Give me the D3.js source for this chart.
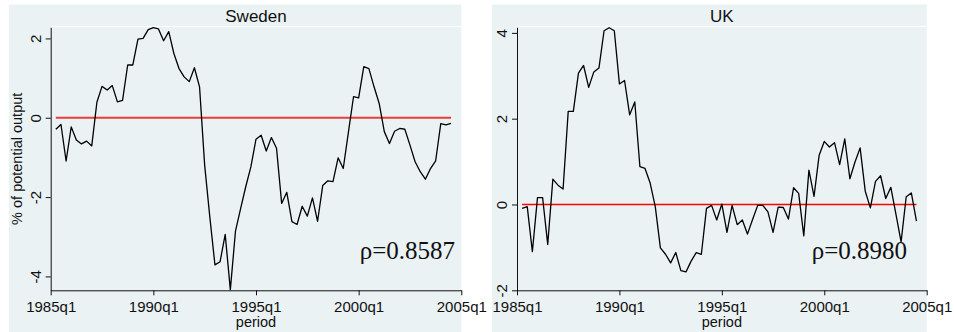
<!DOCTYPE html>
<html>
<head>
<meta charset="utf-8">
<script src="https://cdn.jsdelivr.net/npm/d3@7"></script>
<style>
  body { margin: 0; background: #fff; }
  svg { display: block; font-family: 'Liberation Sans', Arial, sans-serif; }
  .tick text { font-size: 15px; fill: #111; }
  .axis path, .axis line { stroke: #111; stroke-width: 1; }
  .series { fill: none; stroke: #000; stroke-width: 1.3; stroke-linejoin: round; }
  .title { font-size: 17px; fill: #111; text-anchor: middle; }
  .axis-label { font-size: 14.5px; fill: #111; text-anchor: middle; }
  .rho { font-family: 'Liberation Serif', 'Times New Roman', serif; font-size: 25px; fill: #111; text-anchor: end; }
</style>
</head>
<body>
<div class="chart-container"></div>
<script>
var width = 954;
var height = 332;

// output gap, % of potential output, quarterly 1985q2 .. 2004q3
var firstPeriod = 1985.25;
var sweden = [
  -0.29, -0.17, -1.09, -0.23, -0.56, -0.66, -0.59, -0.71, 0.39, 0.79,
  0.70, 0.81, 0.40, 0.44, 1.33, 1.33, 1.98, 2.00, 2.22, 2.27,
  2.24, 1.94, 2.17, 1.62, 1.24, 1.03, 0.91, 1.26, 0.78, -1.20,
  -2.50, -3.71, -3.63, -2.94, -4.34, -2.86, -2.29, -1.74, -1.24, -0.54,
  -0.44, -0.84, -0.50, -0.77, -2.16, -1.88, -2.62, -2.69, -2.23, -2.48,
  -2.02, -2.61, -1.71, -1.59, -1.61, -1.01, -1.28, -0.37, 0.53, 0.50,
  1.29, 1.24, 0.78, 0.36, -0.35, -0.65, -0.34, -0.27, -0.29, -0.69,
  -1.11, -1.36, -1.55, -1.28, -1.09, -0.15, -0.18, -0.14
];
var uk = [
  -0.09, -0.05, -1.10, 0.16, 0.16, -0.93, 0.59, 0.45, 0.36, 2.17,
  2.17, 3.06, 3.24, 2.73, 3.09, 3.18, 4.05, 4.12, 4.05, 2.81,
  2.89, 2.09, 2.39, 0.88, 0.84, 0.50, -0.05, -1.01, -1.16, -1.36,
  -1.12, -1.54, -1.57, -1.32, -1.12, -1.16, -0.09, -0.02, -0.36, 0.01,
  -0.65, -0.02, -0.47, -0.36, -0.69, -0.35, -0.02, -0.02, -0.17, -0.65,
  -0.06, -0.07, -0.34, 0.39, 0.26, -0.73, 0.80, 0.19, 1.15, 1.47,
  1.34, 1.44, 0.93, 1.53, 0.60, 0.99, 1.32, 0.31, -0.08, 0.54,
  0.67, 0.14, 0.40, -0.23, -0.87, 0.18, 0.27, -0.39
];

var xTicks = [1985, 1990, 1995, 2000, 2005];
var swedenTicks = [-4, -2, 0, 2];
var ukTicks = [-2, 0, 2, 4];
var titles = ['Sweden', 'UK'];
var rhoLabels = ['\u03c1=0.8587', '\u03c1=0.8980'];

var svg = d3.select('.chart-container').append('svg')
  .attr('width', width)
  .attr('height', height);

function toSeries(values) {
  return values.map((v, i) => ({ period: firstPeriod + i / 4, value: v }));
}

function addPanel(opt) {
  var plotTop = 27.3;
  var plotBottom = 290.3;

  var x = d3.scaleLinear()
    .domain([1985, 2005])
    .range([opt.left, opt.right]);

  var y = d3.scaleLinear()
    .domain(opt.yDomain)
    .range([plotBottom, plotTop]);

  var g = svg.append('g');

  // panel background + title band
  g.append('rect')
    .attr('x', opt.bgLeft)
    .attr('y', 4.5)
    .attr('width', opt.right - opt.bgLeft)
    .attr('height', height - 4.5)
    .attr('fill', '#eaf2f3');
  g.append('rect')
    .attr('x', opt.left)
    .attr('y', plotTop - 1.2)
    .attr('width', opt.right - opt.left)
    .attr('height', 1)
    .attr('fill', '#fff');

  g.append('text')
    .attr('class', 'title')
    .attr('x', (opt.left + opt.right) / 2)
    .attr('y', 21.5)
    .text(opt.title);

  var data = toSeries(opt.values);

  // zero reference line over the sample
  g.append('line')
    .attr('x1', x(data[0].period))
    .attr('x2', x(data[data.length - 1].period))
    .attr('y1', y(0))
    .attr('y2', y(0))
    .attr('stroke', opt.zeroColor)
    .attr('stroke-width', opt.zeroWidth);

  var line = d3.line()
    .x(d => x(d.period))
    .y(d => y(d.value));

  g.append('path')
    .datum(data)
    .attr('class', 'series')
    .attr('d', line);

  var yAxis = d3.axisLeft(y)
    .tickValues(opt.yTicks)
    .tickFormat(d => String(d))
    .tickSize(5)
    .tickSizeOuter(0);

  var gY = g.append('g')
    .attr('class', 'axis')
    .attr('transform', `translate(${opt.left},0)`)
    .call(yAxis);
  gY.selectAll('.tick text')
    .attr('transform', 'rotate(-90)')
    .attr('x', 0)
    .attr('y', -10)
    .attr('dy', 0)
    .attr('text-anchor', 'middle');

  var xAxis = d3.axisBottom(x)
    .tickValues(xTicks)
    .tickFormat(d => d + 'q1')
    .tickSize(5)
    .tickPadding(6.5)
    .tickSizeOuter(0);

  g.append('g')
    .attr('class', 'axis')
    .attr('transform', `translate(0,${plotBottom})`)
    .call(xAxis);

  g.append('text')
    .attr('class', 'axis-label')
    .attr('x', (opt.left + opt.right) / 2)
    .attr('y', 326.5)
    .text('period');

  g.append('text')
    .attr('class', 'rho')
    .attr('x', opt.rhoX)
    .attr('y', 259.3)
    .text(opt.rho);

  return g;
}

addPanel({
  title: titles[0], values: sweden, yTicks: swedenTicks,
  yDomain: [-4.35, 2.28], left: 50.7, right: 461.3, bgLeft: 9,
  zeroColor: '#f03a3a', zeroWidth: 2, rho: rhoLabels[0], rhoX: 455
});

addPanel({
  title: titles[1], values: uk, yTicks: ukTicks,
  yDomain: [-2, 4.13], left: 517, right: 926.7, bgLeft: 492,
  zeroColor: '#ff0000', zeroWidth: 1.4, rho: rhoLabels[1], rhoX: 907
});

svg.append('text')
  .attr('class', 'axis-label')
  .attr('transform', `translate(22, ${(27.3 + 290.3) / 2}) rotate(-90)`)
  .text('% of potential output');
</script>
</body>
</html>
